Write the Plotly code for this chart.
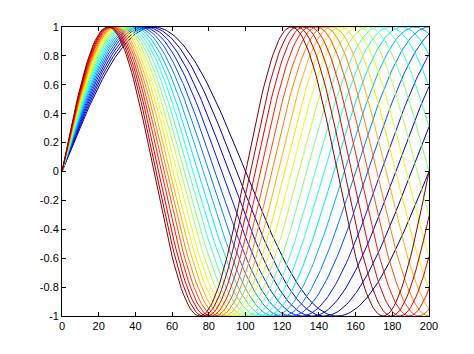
import numpy as np
import plotly.graph_objects as go

# cycles over the 0..200 range for each curve (blue = 1 cycle, red = 2 cycles)
cycles = [1.00, 1.05, 1.10, 1.15, 1.20, 1.25, 1.30, 1.35, 1.40, 1.45, 1.50,
          1.55, 1.60, 1.65, 1.70, 1.75, 1.80, 1.85, 1.90, 1.95, 2.00]
x_vals = np.arange(0, 201, 1)
x_ticks = [0, 20, 40, 60, 80, 100, 120, 140, 160, 180, 200]
y_ticks = [-1, -0.8, -0.6, -0.4, -0.2, 0, 0.2, 0.4, 0.6, 0.8, 1]
y_labels = ["-1", "-0.8", "-0.6", "-0.4", "-0.2", "0", "0.2", "0.4", "0.6", "0.8", "1"]


def jet(t):
    r = min(max(1.5 - abs(4 * t - 3), 0), 1)
    g = min(max(1.5 - abs(4 * t - 2), 0), 1)
    b = min(max(1.5 - abs(4 * t - 1), 0), 1)
    return f"rgb({int(r*255)},{int(g*255)},{int(b*255)})"


fig = go.Figure()
n = len(cycles)
for i, c in enumerate(cycles):
    y = np.sin(2 * np.pi * c * x_vals / 200.0)
    fig.add_trace(go.Scatter(x=x_vals, y=y, mode="lines",
                             line=dict(color=jet(i / (n - 1)), width=1),
                             showlegend=False, hoverinfo="skip"))

axis_common = dict(showgrid=False, zeroline=False, showline=True, linecolor="black",
                   linewidth=1, mirror="ticks", ticks="inside", ticklen=4,
                   tickcolor="black", tickfont=dict(family="Liberation Sans", size=11, color="black"))
fig.update_xaxes(range=[0, 200], tickvals=x_ticks, ticktext=[str(v) for v in x_ticks], **axis_common)
fig.update_yaxes(range=[-1, 1], tickvals=y_ticks, ticktext=y_labels, **axis_common)
fig.update_layout(width=474, height=354, margin=dict(l=62, r=45, t=27, b=38),
                  paper_bgcolor="white", plot_bgcolor="white")
fig.write_html("out.html")
